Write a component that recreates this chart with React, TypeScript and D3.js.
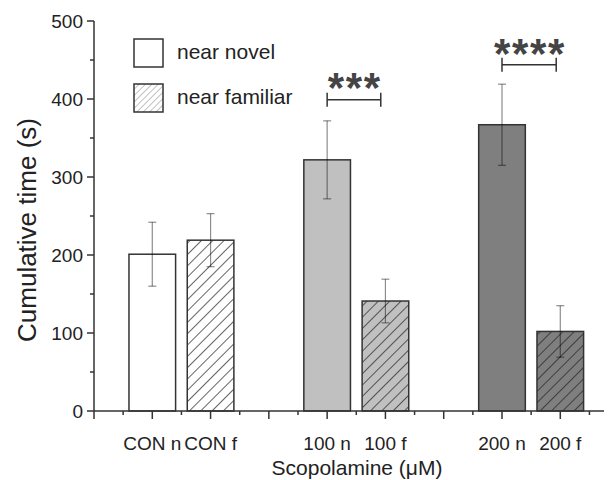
import React from 'react';
import * as d3 from 'd3';

// values
const categories = ['CON n', 'CON f', '100 n', '100 f', '200 n', '200 f'];
const positions = [1, 2, 4, 5, 7, 8];
const means = [201, 219, 322, 141, 367, 102];
const errors = [41, 34, 50, 28, 52, 33];
const fills = ['#ffffff', '#ffffff', '#c0c0c0', '#c0c0c0', '#7f7f7f', '#7f7f7f'];
const hatched = [false, true, false, true, false, true];

const yTicks = [0, 100, 200, 300, 400, 500];
const yMinorTicks = [50, 150, 250, 350, 450];
const xMajorTicks = [0, 1, 2, 3, 4, 5, 6, 7, 8];
const xMinorTicks = [0.5, 1.5, 2.5, 3.5, 4.5, 5.5, 6.5, 7.5, 8.5];

const legendLabels = ['near novel', 'near familiar'];

// significance brackets
const sigX1 = [4, 7];
const sigX2 = [4.92, 7.93];
const sigY = [399, 444];
const sigTextY = [427, 470];
const sigLabels = ['***', '****'];

const W = 612;
const H = 480;
const font = 'Liberation Sans, Arial, sans-serif';

export default function App() {
  const x = d3.scaleLinear().domain([0, 8.75]).range([94, 604]);
  const y = d3.scaleLinear().domain([0, 500]).range([411, 21]);
  const barW = x(0.8) - x(0);

  return (
    <div style={{ position: 'fixed', left: 0, top: 0 }}>
      <svg width={W} height={H} style={{ display: 'block', background: '#fff' }}>
        <defs>
          <pattern id="hatch" patternUnits="userSpaceOnUse" width={8} height={8} patternTransform="rotate(45)">
            <line x1={0} y1={0} x2={0} y2={8} stroke="#222" strokeWidth={1.4} />
          </pattern>
          <pattern id="hatchLegend" patternUnits="userSpaceOnUse" width={4.5} height={4.5} patternTransform="rotate(45)">
            <line x1={0} y1={0} x2={0} y2={4.5} stroke="#888" strokeWidth={1} />
          </pattern>
        </defs>

        {/* bars */}
        {categories.map((c, i) => {
          const cx = x(positions[i]);
          const top = y(means[i]);
          return (
            <g key={c}>
              <rect x={cx - barW / 2} y={top} width={barW} height={y(0) - top} fill={fills[i]} />
              {hatched[i] && (
                <rect x={cx - barW / 2} y={top} width={barW} height={y(0) - top} fill="url(#hatch)" />
              )}
              <rect x={cx - barW / 2} y={top} width={barW} height={y(0) - top} fill="none" stroke="#333" strokeWidth={1.5} />
            </g>
          );
        })}

        {/* error bars */}
        {categories.map((c, i) => {
          const cx = x(positions[i]);
          const hi = y(means[i] + errors[i]);
          const lo = y(means[i] - errors[i]);
          return (
            <g key={'e' + c} stroke="#000" strokeOpacity={0.45} strokeWidth={1.2}>
              <line x1={cx} x2={cx} y1={hi} y2={lo} />
              <line x1={cx - 4} x2={cx + 4} y1={hi} y2={hi} />
              <line x1={cx - 4} x2={cx + 4} y1={lo} y2={lo} />
            </g>
          );
        })}

        {/* y axis */}
        <g stroke="#333" strokeWidth={1.5}>
          <line x1={x(0)} x2={x(0)} y1={y(500)} y2={y(0)} />
          {yTicks.map(t => (
            <line key={'yt' + t} x1={x(0) - 7} x2={x(0)} y1={y(t)} y2={y(t)} />
          ))}
          {yMinorTicks.map(t => (
            <line key={'ym' + t} x1={x(0) - 4} x2={x(0)} y1={y(t)} y2={y(t)} />
          ))}
        </g>
        {yTicks.map(t => (
          <text key={'yl' + t} x={x(0) - 11} y={y(t)} dy="0.35em" textAnchor="end" fontFamily={font} fontSize={19} fill="#222">
            {t}
          </text>
        ))}
        <text
          transform="translate(36,230) rotate(-90)"
          textAnchor="middle"
          fontFamily={font}
          fontSize={26}
          fill="#222"
        >
          Cumulative time (s)
        </text>

        {/* x axis */}
        <g stroke="#333" strokeWidth={1.5}>
          <line x1={x(0)} x2={x(8.75)} y1={y(0)} y2={y(0)} />
          {xMajorTicks.map(t => (
            <line key={'xt' + t} x1={x(t)} x2={x(t)} y1={y(0)} y2={y(0) + 8} />
          ))}
          {xMinorTicks.map(t => (
            <line key={'xm' + t} x1={x(t)} x2={x(t)} y1={y(0)} y2={y(0) + 4} />
          ))}
        </g>
        {categories.map((c, i) => (
          <text key={'xl' + c} x={x(positions[i])} y={450} textAnchor="middle" fontFamily={font} fontSize={19} fill="#222">
            {c}
          </text>
        ))}
        <text x={357} y={475} textAnchor="middle" fontFamily={font} fontSize={21} fill="#222">
          Scopolamine (μM)
        </text>

        {/* legend */}
        {legendLabels.map((l, i) => (
          <g key={l}>
            <rect x={134} y={39 + i * 45} width={29} height={28} fill="#fff" />
            {i === 1 && <rect x={134} y={39 + i * 45} width={29} height={28} fill="url(#hatchLegend)" />}
            <rect x={134} y={39 + i * 45} width={29} height={28} fill="none" stroke="#333" strokeWidth={1.5} />
            <text x={177} y={59 + i * 45} fontFamily={font} fontSize={21} fill="#222">
              {l}
            </text>
          </g>
        ))}

        {/* significance */}
        {sigLabels.map((s, i) => {
          const x1 = x(sigX1[i]);
          const x2 = x(sigX2[i]);
          const by = y(sigY[i]);
          const mid = (x1 + x2) / 2;
          const n = s.length;
          return (
            <g key={'s' + i}>
              <g stroke="#333" strokeWidth={1.5}>
                <line x1={x1} x2={x2} y1={by} y2={by} />
                <line x1={x1} x2={x1} y1={by - 7} y2={by + 7} />
                <line x1={x2} x2={x2} y1={by - 7} y2={by + 7} />
              </g>
              {s.split('').map((ch, k) => (
                <text
                  key={k}
                  x={mid + (k - (n - 1) / 2) * 18}
                  y={y(sigTextY[i]) + 24}
                  textAnchor="middle"
                  fontFamily={font}
                  fontWeight="bold"
                  fontSize={42}
                  fill="#444"
                >
                  {ch}
                </text>
              ))}
            </g>
          );
        })}
      </svg>
    </div>
  );
}
